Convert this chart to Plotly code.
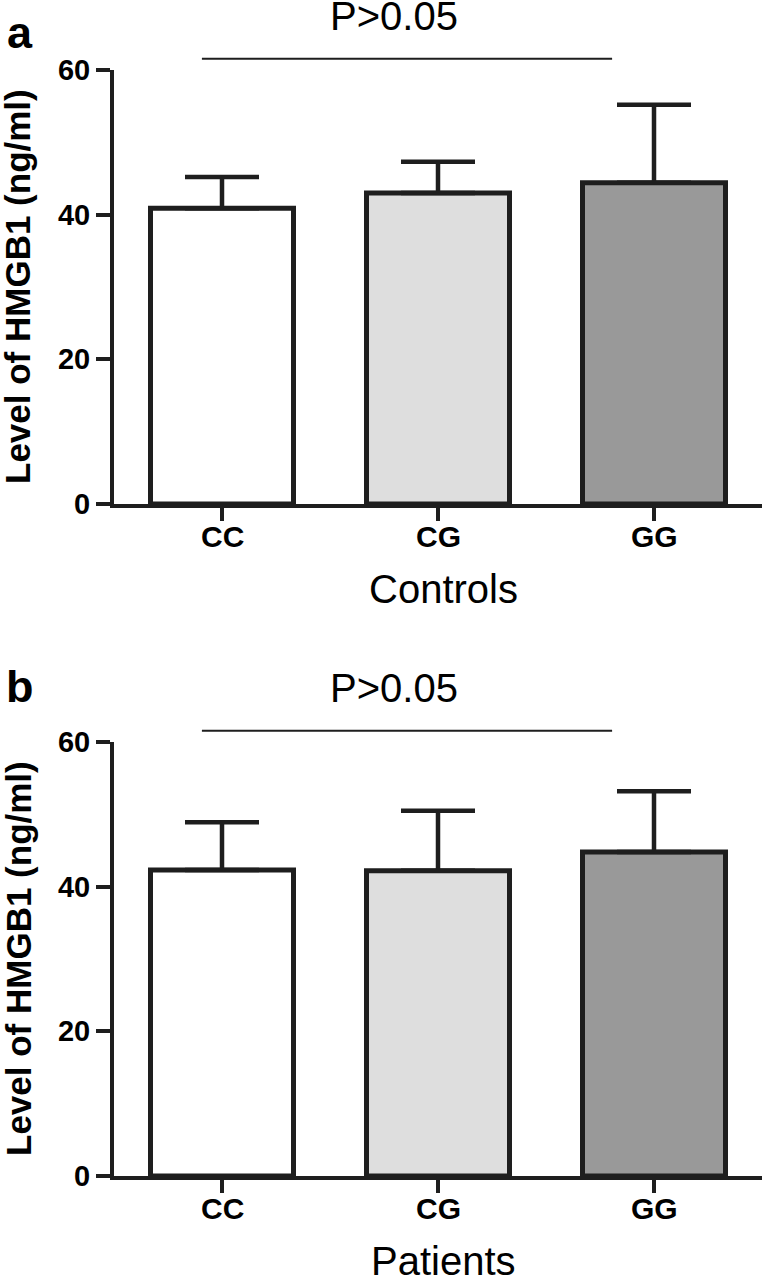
import plotly.graph_objects as go

categories = ["CC", "CG", "GG"]
controls_mean = [40.9, 43.0, 44.4]
controls_err = [4.3, 4.3, 10.8]
patients_mean = [42.3, 42.2, 44.8]
patients_err = [6.6, 8.3, 8.4]
bar_colors = ["#ffffff", "#dedede", "#999999"]
y_ticks = [0, 20, 40, 60]
p_text = "P&gt;0.05"

W, H = 767, 1278
ML, MR, MT, MB = 114, 5, 70, 102
PW = W - ML - MR
PH = H - MT - MB
FAM = "Liberation Sans, Arial, sans-serif"


def py(pix):
    return 1 - (pix - MT) / PH


def px(pix):
    return (pix - ML) / PW


dom_top = [py(504), 1.0]
dom_bot = [py(1176), py(742)]

ink = "#1e1e1e"
fig = go.Figure()

for mean, err, ax in [(controls_mean, controls_err, ""), (patients_mean, patients_err, "2")]:
    fig.add_trace(go.Bar(
        x=categories, y=mean,
        xaxis="x" + ax, yaxis="y" + ax,
        width=0.662,
        marker=dict(color=bar_colors, line=dict(color=ink, width=5)),
        error_y=dict(type="data", symmetric=False, array=err, arrayminus=[0, 0, 0],
                     color=ink, thickness=4.5, width=37),
        showlegend=False,
    ))

xa = dict(range=[-0.5, 2.5], showline=True, linecolor=ink, linewidth=4, ticks="outside",
          ticklen=13, tickwidth=3.5, tickcolor=ink, showgrid=False, zeroline=False,
          showticklabels=False, domain=[0, 1], fixedrange=True)
ya = dict(range=[0, 60], tickvals=y_ticks, showline=True, linecolor=ink, linewidth=4,
          ticks="outside", ticklen=14, tickwidth=3.5, tickcolor=ink, showgrid=False,
          zeroline=False, tickfont=dict(family=FAM, size=29, color="#000", weight="bold"),
          fixedrange=True)

fig.update_layout(
    width=W, height=H,
    margin=dict(l=ML, r=MR, t=MT, b=MB),
    paper_bgcolor="white", plot_bgcolor="white",
    font=dict(family=FAM, color="#000"),
    xaxis=dict(xa, anchor="y"),
    yaxis=dict(ya, domain=dom_top, anchor="x"),
    xaxis2=dict(xa, anchor="y2"),
    yaxis2=dict(ya, domain=dom_bot, anchor="x2"),
)

annotations = []
shapes = []
for dom, xr, xlabel, letter, letter_y in [
    (dom_top, "x", "Controls", "a", py(32)),
    (dom_bot, "x2", "Patients", "b", py(686)),
]:
    span = dom[1] - dom[0]
    # significance line
    ly = dom[0] + 61.55 / 60 * span
    shapes.append(dict(type="line", xref=xr, yref="paper", x0=-0.093, x1=1.806, y0=ly, y1=ly,
                       line=dict(color=ink, width=2)))
    annotations.append(dict(xref=xr, yref="paper", x=0.796, y=dom[0] + 67.4 / 60 * span,
                            text=p_text, showarrow=False,
                            font=dict(size=40, family=FAM),
                            xanchor="center", yanchor="middle"))
    # category labels
    for c in categories:
        annotations.append(dict(xref=xr, yref="paper", x=c, y=dom[0] - 32 / PH,
                                text="<b>" + c + "</b>", showarrow=False,
                                font=dict(size=30, family=FAM),
                                xanchor="center", yanchor="middle"))
    # y title
    annotations.append(dict(xref="paper", yref="paper", x=px(18), y=(dom[0] + dom[1]) / 2,
                            text="<b>Level of HMGB1 (ng/ml)</b>", textangle=-90, showarrow=False,
                            font=dict(size=35, family=FAM),
                            xanchor="center", yanchor="middle"))
    # x title
    annotations.append(dict(xref="paper", yref="paper", x=px(443), y=dom[0] - 85 / PH,
                            text=xlabel, showarrow=False,
                            font=dict(size=40, family=FAM),
                            xanchor="center", yanchor="middle"))
    # panel letter
    annotations.append(dict(xref="paper", yref="paper", x=px(20), y=letter_y,
                            text="<b>" + letter + "</b>", showarrow=False,
                            font=dict(size=45, family=FAM),
                            xanchor="center", yanchor="middle"))

fig.update_layout(annotations=annotations, shapes=shapes)
fig.write_html("out.html", config={"displayModeBar": False},
               post_script="document.body.style.margin='0';")
